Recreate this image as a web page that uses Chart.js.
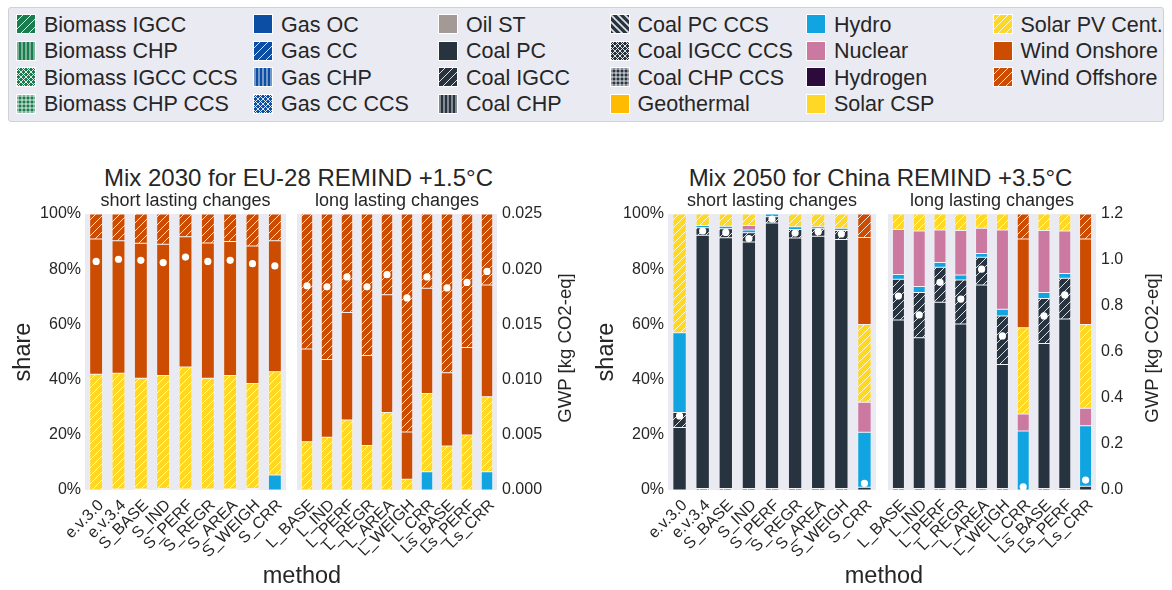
<!DOCTYPE html>
<html lang="en">
<head>
<meta charset="utf-8">
<title>Electricity mix and GWP per method</title>
<script src="https://cdn.jsdelivr.net/npm/chart.js@4.4.1/dist/chart.umd.min.js"></script>
<style>
  html, body { margin: 0; padding: 0; background: #fff; }
  body { position: relative; width: 1172px; height: 590px; overflow: hidden;
         font-family: "Liberation Sans", Arial, Helvetica, sans-serif; color: #262626; }
  canvas { position: absolute; }
  .txt { position: absolute; white-space: nowrap; text-align: center; }
  .rot { position: absolute; white-space: nowrap; text-align: center; transform: rotate(-90deg); }
  #legendBox { position: absolute; left: 7.5px; top: 7px; width: 1156px; height: 115px;
               box-sizing: border-box; background: #eaeaf2; border: 1px solid #d0d0d6; border-radius: 3px; }
  .lg-swatch { position: absolute; }
  .lg-label { position: absolute; font-size: 21.5px; line-height: 22px; white-space: nowrap; }
</style>
</head>
<body>
<div id="legendBox"></div>

<div class="txt" style="left:-1.5px;top:166px;width:600px;font-size:24px;line-height:24px;">Mix 2030 for EU-28 REMIND +1.5°C</div>
<div class="txt" style="left:580.5px;top:166px;width:600px;font-size:24px;line-height:24px;">Mix 2050 for China REMIND +3.5°C</div>

<canvas id="euShort" width="286" height="380" style="left:0px;top:190px"></canvas>
<canvas id="euLong" width="307" height="380" style="left:240px;top:190px"></canvas>
<canvas id="cnShort" width="293" height="380" style="left:583px;top:190px"></canvas>
<canvas id="cnLong" width="316" height="380" style="left:830px;top:190px"></canvas>

<div class="rot" style="left:465px;top:338px;width:200px;height:20px;font-size:18.6px;line-height:20px;">GWP [kg CO2-eq]</div>
<div class="rot" style="left:1051.5px;top:338px;width:200px;height:20px;font-size:18.6px;line-height:20px;">GWP [kg CO2-eq]</div>

<div class="txt" style="left:202px;top:563px;width:200px;font-size:23.5px;line-height:24px;">method</div>
<div class="txt" style="left:784px;top:563px;width:200px;font-size:23.5px;line-height:24px;">method</div>

<script>
// ---- categories -------------------------------------------------------
const shortMethods = ['e.v.3.0', 'e.v.3.4', 'S_BASE', 'S_IND', 'S_PERF', 'S_REGR', 'S_AREA', 'S_WEIGH', 'S_CRR'];
const longMethods  = ['L_BASE', 'L_IND', 'L_PERF', 'L_REGR', 'L_AREA', 'L_WEIGH', 'L_CRR', 'Ls_BASE', 'Ls_PERF', 'Ls_CRR'];

// ---- technologies (stacking order, bottom to top) -----------------------
const techNames = ['Biomass IGCC', 'Biomass CHP', 'Biomass IGCC CCS', 'Biomass CHP CCS',
                   'Gas OC', 'Gas CC', 'Gas CHP', 'Gas CC CCS',
                   'Oil ST', 'Coal PC', 'Coal IGCC', 'Coal CHP',
                   'Coal PC CCS', 'Coal IGCC CCS', 'Coal CHP CCS', 'Geothermal',
                   'Hydro', 'Nuclear', 'Hydrogen', 'Solar CSP',
                   'Solar PV Cent.', 'Wind Onshore', 'Wind Offshore'];
const techColors = ['#1b7c50', '#1b7c50', '#1b7c50', '#1b7c50',
                    '#0c4ea4', '#0c4ea4', '#0c4ea4', '#0c4ea4',
                    '#a39a95', '#27333f', '#27333f', '#27333f',
                    '#27333f', '#27333f', '#27333f', '#ffbb00',
                    '#10a5e1', '#cc79a1', '#2d0a3c', '#ffd826',
                    '#ffd826', '#cc4c02', '#cc4c02'];
const techHatches = ['/', '|', 'x', '+',
                     '', '/', '|', 'x',
                     '', '', '/', '|',
                     '\\', 'x', '+', '',
                     '', '', '', '',
                     '/', '', '/'];

// ---- EU-28, 2030, short lasting changes (share in %) --------------------
const euShortBiomass = [0, 0.4, 0.4, 0.3, 0.4, 0.4, 0.4, 0.3, 0];
const euShortHydro   = [0, 0, 0, 0.2, 0, 0, 0, 0.2, 5.4];
const euShortSolarPV = [41.9, 41.9, 40.1, 41.0, 44.2, 40.1, 41.1, 38.1, 37.4];
const euShortWindOn  = [49.0, 48.0, 48.9, 47.5, 47.2, 49.0, 48.5, 49.8, 47.5];
const euShortWindOff = [9.1, 9.7, 10.6, 11.0, 8.2, 10.5, 10.0, 11.6, 9.7];
const euShortGWP     = [0.0207, 0.0209, 0.0208, 0.0206, 0.0211, 0.0207, 0.0208, 0.0205, 0.0203];

// ---- EU-28, 2030, long lasting changes ----------------------------------
const euLongHydro   = [0, 0, 0, 0, 0, 0, 6.6, 0, 0, 6.6];
const euLongSolarPV = [17.5, 19.1, 25.4, 16.1, 28.1, 3.9, 28.4, 15.9, 19.9, 27.2];
const euLongWindOn  = [33.6, 28.2, 38.9, 32.6, 42.6, 17.1, 38.1, 26.6, 31.7, 40.5];
const euLongWindOff = [48.9, 52.7, 35.7, 51.3, 29.3, 79.0, 26.9, 57.5, 48.4, 25.7];
const euLongGWP     = [0.0185, 0.0184, 0.0193, 0.0184, 0.0195, 0.0174, 0.0193, 0.0183, 0.0188, 0.0198];

// ---- China, 2050, short lasting changes ---------------------------------
const cnShortBiomass  = [0, 0.5, 0.5, 0.5, 0.5, 0.5, 0.5, 0.5, 0];
const cnShortCoalPC   = [22.6, 91.8, 90.9, 89.4, 96.2, 90.8, 91.4, 90.3, 1.0];
const cnShortCoalIGCC = [5.5, 2.7, 3.3, 3.3, 2.3, 3.1, 2.8, 3.2, 0];
const cnShortHydro    = [28.9, 0.8, 0.9, 1.0, 1.0, 1.0, 0.7, 0.8, 19.9];
const cnShortNuclear  = [0, 0, 0, 1.6, 0, 0, 0, 0, 10.9];
const cnShortSolarPV  = [43.0, 4.2, 4.4, 4.2, 0, 4.6, 4.6, 5.2, 28.2];
const cnShortWindOn   = [0, 0, 0, 0, 0, 0, 0, 0, 31.5];
const cnShortWindOff  = [0, 0, 0, 0, 0, 0, 0, 0, 8.5];
const cnShortGWP      = [0.322, 1.126, 1.120, 1.093, 1.178, 1.117, 1.123, 1.113, 0.029];

// ---- China, 2050, long lasting changes ----------------------------------
const cnLongBiomass  = [0.5, 0.5, 0.5, 0.5, 0.5, 0.5, 0, 0.5, 0.5, 0];
const cnLongCoalPC   = [61.1, 54.7, 67.5, 59.6, 73.8, 45.0, 0, 52.6, 61.5, 1.4];
const cnLongCoalIGCC = [14.8, 16.4, 12.7, 16.0, 10.0, 17.5, 0, 16.3, 14.7, 0];
const cnLongHydro    = [1.7, 2.1, 1.7, 1.8, 1.4, 2.5, 21.4, 2.2, 1.7, 21.9];
const cnLongNuclear  = [16.3, 20.1, 11.8, 16.1, 9.1, 28.7, 6.1, 22.4, 15.4, 6.3];
const cnLongSolarPV  = [5.6, 6.2, 5.8, 6.0, 5.2, 5.8, 31.3, 6.0, 6.2, 30.4];
const cnLongWindOn   = [0, 0, 0, 0, 0, 0, 32.1, 0, 0, 30.9];
const cnLongWindOff  = [0, 0, 0, 0, 0, 0, 9.1, 0, 0, 9.1];
const cnLongGWP      = [0.843, 0.761, 0.903, 0.830, 0.960, 0.670, 0.014, 0.757, 0.848, 0.043];

// ---- styling helpers ----------------------------------------------------
const FONT = '"Liberation Sans", Arial, Helvetica, sans-serif';
const TEXT = '#262626';
const PLOT_BG = '#eaeaf2';

// Build one hatch tile (white hatching over a solid colour)
function hatchTile(color, hatch) {
  const sizes = { '/': 8, '\\': 7, '|': 4, '+': 4, 'x': 5 };
  const s = sizes[hatch] || 8;
  const c = document.createElement('canvas');
  c.width = s; c.height = s;
  const g = c.getContext('2d');
  g.fillStyle = color;
  g.fillRect(0, 0, s, s);
  g.strokeStyle = 'rgba(255,255,255,0.85)';
  g.lineWidth = hatch === '\\' ? 1.8 : 1;
  g.beginPath();
  if (hatch === '/' || hatch === 'x') {
    g.moveTo(0, s); g.lineTo(s, 0);
    g.moveTo(-1, 1); g.lineTo(1, -1);
    g.moveTo(s - 1, s + 1); g.lineTo(s + 1, s - 1);
  }
  if (hatch === '\\' || hatch === 'x') {
    g.moveTo(0, 0); g.lineTo(s, s);
    g.moveTo(-1, s - 1); g.lineTo(1, s + 1);
    g.moveTo(s - 1, -1); g.lineTo(s + 1, 1);
  }
  if (hatch === '|' || hatch === '+') {
    g.moveTo(s / 2, 0); g.lineTo(s / 2, s);
  }
  if (hatch === '+') {
    g.moveTo(0, s / 2); g.lineTo(s, s / 2);
  }
  g.stroke();
  return c;
}

function techFill(ctx, i) {
  const h = techHatches[i];
  if (!h) return techColors[i];
  return ctx.createPattern(hatchTile(techColors[i], h), 'repeat');
}

// lavender plot area behind the bars
const plotBackground = {
  id: 'plotBackground',
  beforeDraw(chart) {
    const { ctx, chartArea: a } = chart;
    ctx.save();
    ctx.fillStyle = PLOT_BG;
    ctx.fillRect(a.left, a.top, a.right - a.left, a.bottom - a.top);
    ctx.restore();
  }
};

function buildChart(id, cfg) {
  const canvas = document.getElementById(id);
  const ctx = canvas.getContext('2d');
  const datasets = [];
  techNames.forEach((name, i) => {
    const values = cfg.series[name];
    if (!values) return;
    datasets.push({
      type: 'bar',
      label: name,
      data: values,
      backgroundColor: techFill(ctx, i),
      borderColor: 'rgba(255,255,255,0.9)',
      borderWidth: 0.5,
      borderSkipped: false,
      barPercentage: 0.58,
      categoryPercentage: 1.0,
      yAxisID: 'y',
      order: 1
    });
  });
  datasets.push({
    type: 'line',
    label: 'GWP',
    data: cfg.gwp,
    yAxisID: 'y2',
    showLine: false,
    pointRadius: 3.6,
    pointHoverRadius: 3.6,
    pointBackgroundColor: '#ffffff',
    pointBorderWidth: 0,
    order: 0
  });

  return new Chart(ctx, {
    type: 'bar',
    data: { labels: cfg.labels, datasets },
    plugins: [plotBackground],
    options: {
      responsive: false,
      animation: false,
      devicePixelRatio: 1,
      layout: { autoPadding: false, padding: { left: cfg.padLeft || 0, right: 0, top: 0, bottom: 0 } },
      plugins: {
        legend: { display: false },
        tooltip: { enabled: false },
        title: {
          display: true,
          text: cfg.title,
          fullSize: false,
          color: TEXT,
          font: { family: FONT, size: 18, weight: 'normal', lineHeight: 1 },
          padding: { top: 2.5, bottom: 3.5 }
        }
      },
      scales: {
        x: {
          stacked: true,
          grid: { display: false, drawTicks: false },
          border: { display: false },
          ticks: {
            autoSkip: false, maxRotation: 45, minRotation: 45, padding: 6, labelOffset: 5,
            color: TEXT, font: { family: FONT, size: 16 }
          },
          afterFit: s => { s.height = 80; s.paddingLeft = 0; s.paddingRight = 0; }
        },
        y: {
          stacked: true,
          min: 0, max: 100,
          display: cfg.shareAxis,
          position: 'left',
          grid: { display: false, drawTicks: false },
          border: { display: false },
          ticks: {
            stepSize: 20, padding: 4, color: TEXT,
            font: { family: FONT, size: 16 },
            callback: v => v + '%'
          },
          title: {
            display: true, text: 'share', color: TEXT,
            font: { family: FONT, size: 23.5, lineHeight: 1 },
            padding: { top: 11.4, bottom: 0 }
          },
          afterFit: s => { s.width = cfg.shareAxis ? 85 : 0; }
        },
        y2: {
          min: 0, max: cfg.gwpMax,
          display: cfg.gwpAxis,
          position: 'right',
          grid: { display: false, drawTicks: false },
          border: { display: false },
          ticks: {
            stepSize: cfg.gwpStep, padding: 5, color: TEXT,
            font: { family: FONT, size: 16 },
            callback: v => Number(v).toFixed(cfg.gwpDecimals)
          },
          afterFit: s => { s.width = cfg.gwpAxis ? 50 : 0; }
        }
      }
    }
  });
}

// ---- the four panels ----------------------------------------------------
buildChart('euShort', {
  labels: shortMethods, title: 'short lasting changes', shareAxis: true, gwpAxis: false,
  gwpMax: 0.025, gwpStep: 0.005, gwpDecimals: 3, gwp: euShortGWP,
  series: { 'Biomass IGCC': euShortBiomass, 'Hydro': euShortHydro, 'Solar PV Cent.': euShortSolarPV,
            'Wind Onshore': euShortWindOn, 'Wind Offshore': euShortWindOff }
});
buildChart('euLong', {
  labels: longMethods, title: 'long lasting changes', shareAxis: false, gwpAxis: true, padLeft: 57,
  gwpMax: 0.025, gwpStep: 0.005, gwpDecimals: 3, gwp: euLongGWP,
  series: { 'Hydro': euLongHydro, 'Solar PV Cent.': euLongSolarPV,
            'Wind Onshore': euLongWindOn, 'Wind Offshore': euLongWindOff }
});
buildChart('cnShort', {
  labels: shortMethods, title: 'short lasting changes', shareAxis: true, gwpAxis: false,
  gwpMax: 1.2, gwpStep: 0.2, gwpDecimals: 1, gwp: cnShortGWP,
  series: { 'Biomass IGCC': cnShortBiomass, 'Coal PC': cnShortCoalPC, 'Coal IGCC': cnShortCoalIGCC,
            'Hydro': cnShortHydro, 'Nuclear': cnShortNuclear, 'Solar PV Cent.': cnShortSolarPV,
            'Wind Onshore': cnShortWindOn, 'Wind Offshore': cnShortWindOff }
});
buildChart('cnLong', {
  labels: longMethods, title: 'long lasting changes', shareAxis: false, gwpAxis: true, padLeft: 58,
  gwpMax: 1.2, gwpStep: 0.2, gwpDecimals: 1, gwp: cnLongGWP,
  series: { 'Biomass IGCC': cnLongBiomass, 'Coal PC': cnLongCoalPC, 'Coal IGCC': cnLongCoalIGCC,
            'Hydro': cnLongHydro, 'Nuclear': cnLongNuclear, 'Solar PV Cent.': cnLongSolarPV,
            'Wind Onshore': cnLongWindOn, 'Wind Offshore': cnLongWindOff }
});

// ---- legend: 6 columns x 4 rows, filled column by column -----------------
const legendTextX = [44, 281, 466, 637.5, 834, 1020.5];
const legendBaseY = 32;
const legendRowStep = 26.5;
techNames.forEach((name, i) => {
  const col = Math.floor(i / 4), row = i % 4;
  const base = legendBaseY + row * legendRowStep;
  const sw = document.createElement('canvas');
  sw.width = 20; sw.height = 20;
  sw.className = 'lg-swatch';
  sw.style.left = (legendTextX[col] - 28) + 'px';
  sw.style.top = (base - 18) + 'px';
  const g = sw.getContext('2d');
  g.fillStyle = '#ffffff';
  g.fillRect(0, 0, 20, 20);
  g.fillStyle = techFill(g, i);
  g.fillRect(1, 1, 18, 18);
  document.body.appendChild(sw);
  const lab = document.createElement('div');
  lab.className = 'lg-label';
  lab.textContent = name;
  lab.style.left = legendTextX[col] + 'px';
  lab.style.top = (base - 18.4) + 'px';
  document.body.appendChild(lab);
});
</script>
</body>
</html>
